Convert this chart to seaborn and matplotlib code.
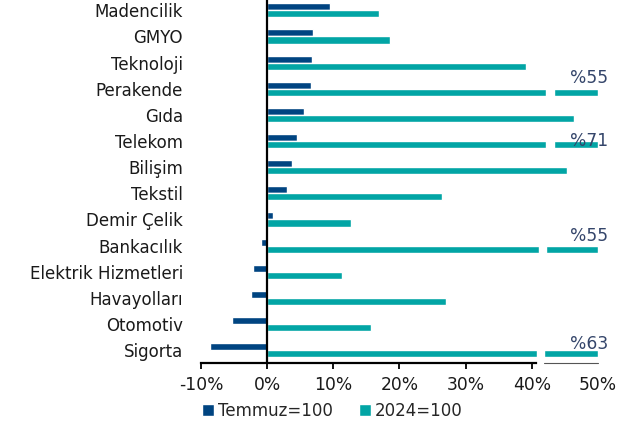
import numpy as np
import pandas as pd
import matplotlib
matplotlib.use("Agg")
import matplotlib.pyplot as plt
import seaborn as sns

# ---- data ----
categories = ["Madencilik", "GMYO", "Teknoloji", "Perakende", "Gıda", "Telekom",
              "Bilişim", "Tekstil", "Demir Çelik", "Bankacılık", "Elektrik Hizmetleri",
              "Havayolları", "Otomotiv", "Sigorta"]
temmuz = [9.5, 6.9, 6.8, 6.6, 5.6, 4.5, 3.7, 3.0, 0.9, -1.0, -2.2, -2.4, -5.3, -8.7]
y2024 = [16.9, 18.6, 39.1, 55, 46.3, 71, 45.3, 26.4, 12.6, 55, 11.3, 27.1, 15.7, 63]
series_names = ["Temmuz=100", "2024=100"]
x_ticks = [-10, 0, 10, 20, 30, 40, 50]
x_tick_labels = ["-10%", "0%", "10%", "20%", "30%", "40%", "50%"]

# ---- style ----
C_DARK = "#004481"
C_TEAL = "#02A5A5"
C_LBL = "#34456a"
X_MAX = 50
break_start = {"Perakende": 42.2, "Telekom": 42.2, "Bankacılık": 41.1, "Sigorta": 40.8}
label_dy = {"Perakende": -0.40, "Telekom": -0.02, "Bankacılık": -0.36, "Sigorta": -0.24}
GAP = 1.1

sns.set_theme(style="white")
plt.rcParams["font.family"] = ["DejaVu Sans"]

df = pd.DataFrame({
    "cat": categories * 2,
    "series": [series_names[0]] * len(categories) + [series_names[1]] * len(categories),
    "raw": temmuz + y2024,
})
df["val"] = df["raw"].clip(upper=X_MAX)

fig = plt.figure(figsize=(6.22, 4.21), dpi=100)
ax = fig.add_axes([201 / 622, 1 - 363 / 421, (598 - 201) / 622, 363 / 421])

sns.barplot(data=df, y="cat", x="val", hue="series", order=categories,
            hue_order=series_names, palette=[C_DARK, C_TEAL], orient="h",
            width=0.54, dodge=True, saturation=1, ax=ax, legend=True)

# axis breaks on truncated bars
for i, cat in enumerate(categories):
    v = y2024[i]
    if v > X_MAX:
        b = break_start[cat]
        ax.barh(i + 0.135, GAP, left=b, height=0.34, color="white", zorder=5)
        ax.text(X_MAX + 1.6, i + label_dy[cat], f"%{v:g}", ha="right", va="center",
                fontsize=12.3, color=C_LBL, zorder=6)

ax.set_xlim(-10, X_MAX)
ax.set_ylim(13.49, -0.394)
ax.axvline(0, color="black", lw=1.6, zorder=4)

for s in ["top", "right", "left"]:
    ax.spines[s].set_visible(False)
ax.spines["bottom"].set_color("black")
ax.spines["bottom"].set_linewidth(1.6)
ax.spines["bottom"].set_bounds(-10, 40.7)
ax.plot([41.9, 50], [13.49, 13.49], color="#555555", lw=0.8, clip_on=False, zorder=4)

ax.set_xticks(x_ticks)
ax.set_xticklabels(x_tick_labels, fontsize=12.3, color="#1a1a1a")
ax.tick_params(axis="x", bottom=True, length=4, width=1.3, color="black", pad=5)
xt = ax.xaxis.get_major_ticks()
xt[-1].tick1line.set_visible(False)
ax.tick_params(axis="y", left=False, length=0, pad=13, labelsize=12, labelcolor="#1a1a1a")
ax.set_xlabel("")
ax.set_ylabel("")
ax.grid(False)

leg = ax.get_legend()
handles = leg.legend_handles
leg.remove()
fig.legend(handles, series_names, loc="center left", bbox_to_anchor=(202 / 622, 1 - 411 / 421),
           ncol=2, frameon=False, fontsize=12, handlelength=0.7, handleheight=0.7,
           handletextpad=0.25, columnspacing=1.6, borderpad=0, borderaxespad=0)

fig.savefig("out.png", dpi=100)
